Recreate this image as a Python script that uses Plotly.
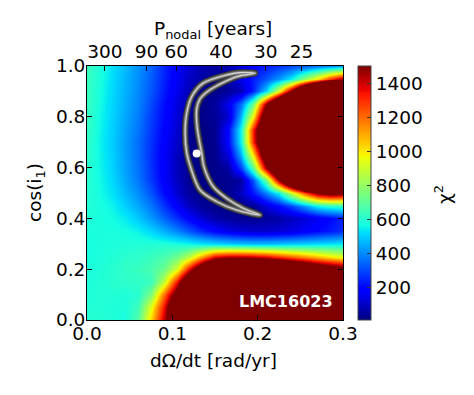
import numpy as np
import plotly.graph_objects as go

# ---------------- data ----------------
dOmega_dt = [0.0, 0.015, 0.03, 0.045, 0.06, 0.075, 0.09, 0.105, 0.12, 0.135, 0.15,
             0.165, 0.18, 0.195, 0.21, 0.225, 0.24, 0.255, 0.27, 0.285, 0.30]
cos_i1 = [0.0, 0.05, 0.10, 0.15, 0.20, 0.25, 0.30, 0.35, 0.40, 0.45, 0.50,
          0.55, 0.60, 0.65, 0.70, 0.75, 0.80, 0.85, 0.90, 0.95, 1.00]

# chi^2 estimated on the grid above (rows: cos_i1 from 0 to 1); values above 1500 saturate
chi2_grid = [
    [600, 595, 585, 575, 680, 1030, 1420, 1900, 2400, 2800, 3100, 3300, 3400, 3500, 3500, 3500, 3500, 3500, 3500, 3500, 3500],
    [590, 590, 585, 580, 640, 940, 1350, 1900, 2400, 2800, 3100, 3300, 3400, 3500, 3500, 3500, 3500, 3500, 3500, 3500, 3500],
    [585, 590, 590, 585, 600, 760, 1200, 1650, 2200, 2600, 2900, 3100, 3200, 3300, 3300, 3300, 3300, 3300, 3300, 3300, 3300],
    [580, 590, 600, 610, 615, 630, 880, 1350, 1900, 2300, 2600, 2800, 2900, 3000, 3000, 3000, 3000, 3000, 3000, 3000, 3000],
    [575, 585, 600, 615, 630, 660, 720, 920, 1350, 1800, 2200, 2400, 2500, 2500, 2400, 2250, 2100, 1950, 1800, 1700, 1620],
    [570, 580, 590, 605, 610, 630, 660, 730, 870, 1130, 1380, 1450, 1450, 1430, 1380, 1300, 1220, 1150, 1080, 1010, 950],
    [570, 575, 580, 585, 590, 590, 590, 580, 560, 540, 520, 500, 490, 480, 480, 490, 500, 510, 520, 530, 540],
    [575, 575, 575, 570, 550, 510, 450, 390, 320, 250, 190, 150, 120, 110, 110, 120, 140, 170, 200, 230, 260],
    [580, 575, 565, 540, 490, 420, 340, 260, 180, 110, 60, 40, 30, 30, 40, 60, 90, 120, 160, 200, 240],
    [590, 575, 550, 500, 440, 370, 270, 170, 90, 40, 20, 20, 20, 30, 120, 200, 300, 420, 550, 600, 620],
    [595, 565, 525, 465, 400, 315, 205, 115, 45, 15, 15, 30, 90, 220, 380, 560, 900, 1250, 1500, 1600, 1550],
    [600, 560, 510, 440, 370, 275, 175, 90, 30, 10, 20, 30, 50, 320, 720, 1500, 2200, 2800, 3200, 3400, 3500],
    [605, 555, 500, 430, 360, 265, 170, 85, 25, 8, 20, 50, 290, 680, 1450, 2150, 2800, 3300, 3700, 4000, 4200],
    [610, 555, 495, 425, 355, 260, 170, 90, 25, 8, 25, 130, 450, 1000, 1800, 2500, 3100, 3600, 4000, 4300, 4600],
    [615, 550, 490, 425, 355, 265, 180, 100, 30, 10, 30, 190, 560, 1300, 2000, 2700, 3300, 3800, 4200, 4500, 4800],
    [620, 555, 495, 430, 365, 275, 190, 110, 30, 10, 30, 195, 568, 1313, 2000, 2700, 3300, 3800, 4200, 4500, 4800],
    [625, 560, 500, 440, 375, 285, 200, 120, 40, 20, 40, 110, 460, 980, 1800, 2500, 3100, 3600, 4000, 4300, 4600],
    [630, 565, 505, 450, 385, 300, 210, 130, 60, 15, 50, 150, 360, 720, 1480, 2200, 2900, 3500, 4000, 4400, 4800],
    [630, 570, 510, 455, 395, 320, 230, 150, 80, 30, 20, 40, 80, 240, 500, 940, 1550, 2300, 3000, 3700, 4400],
    [630, 575, 515, 460, 400, 330, 240, 160, 100, 55, 40, 60, 150, 230, 320, 420, 560, 800, 1000, 1280, 1480],
    [640, 580, 520, 470, 410, 340, 250, 170, 110, 70, 50, 70, 130, 190, 230, 265, 300, 330, 370, 400, 430],
]

# confidence contour (closed crescent)
contour_x = [0.197, 0.179, 0.164, 0.136, 0.1226, 0.1168, 0.115, 0.117, 0.1215, 0.1324, 0.152, 0.1754, 0.2027,
             0.183, 0.1637, 0.148, 0.137, 0.1345, 0.1325, 0.129, 0.1285, 0.1324, 0.144, 0.1754, 0.197]
contour_y = [0.972, 0.974, 0.965, 0.932, 0.879, 0.814, 0.735, 0.656, 0.600, 0.512, 0.466, 0.433, 0.413,
             0.440, 0.479, 0.525, 0.604, 0.656, 0.690, 0.761, 0.830, 0.870, 0.906, 0.958, 0.972]

best_fit_x = [0.1285]
best_fit_y = [0.656]

x_ticks = [0.0, 0.1, 0.2, 0.3]
y_ticks = [0.0, 0.2, 0.4, 0.6, 0.8, 1.0]
period_ticks = [300, 90, 60, 40, 30, 25]      # P_nodal [years]
cbar_ticks = [200, 400, 600, 800, 1000, 1200, 1400]
chi2_min, chi2_max = 8, 1500
label_text = "LMC16023"

# ---------------- style ----------------
FONT = "DejaVu Sans"
FS = 18.5

# matplotlib "jet" colormap
_jet = {
    'r': ((0., 0.), (0.35, 0.), (0.66, 1.), (0.89, 1.), (1., 0.5)),
    'g': ((0., 0.), (0.125, 0.), (0.375, 1.), (0.64, 1.), (0.91, 0.), (1., 0.)),
    'b': ((0., 0.5), (0.11, 1.), (0.34, 1.), (0.65, 0.), (1., 0.)),
}
stops = sorted({p for c in _jet.values() for p, _ in c})
def _ch(c, s):
    xs_, vs_ = zip(*_jet[c])
    return np.interp(s, xs_, vs_)
jet = [[s, "rgb(%d,%d,%d)" % tuple(int(round(255 * _ch(c, s))) for c in 'rgb')] for s in stops]

# plot area in pixels
W, H = 474, 395
L, R, T, B = 87, 343, 66, 320
pw, ph = R - L, B - T
def px(xp): return (xp - L) / pw
def py(yp): return (B - yp) / ph

fig = go.Figure()

fig.add_trace(go.Heatmap(
    x=dOmega_dt, y=cos_i1, z=chi2_grid, zsmooth='best',
    colorscale=jet, zmin=chi2_min, zmax=chi2_max,
    colorbar=dict(
        thickness=13, thicknessmode='pixels', len=1, lenmode='fraction',
        x=px(358), xanchor='left', y=0.5, yanchor='middle', xpad=0, ypad=0,
        outlinewidth=1, outlinecolor='#444444',
        tickvals=cbar_ticks, ticks='inside', ticklen=4, tickcolor='#333333',
        tickfont=dict(family=FONT, size=FS, color='black'),
    ),
    hoverinfo='skip',
))

for w, col in [(6.5, '#333333'), (4.6, '#575757'), (2.8, '#8a8a8a'), (1.1, '#d6d6d6')]:
    fig.add_trace(go.Scatter(
        x=contour_x, y=contour_y, mode='lines',
        line=dict(color=col, width=w, shape='spline', smoothing=0.9),
        showlegend=False, hoverinfo='skip'))

# best-fit point (drawn on the top twin axis, which shares the same dΩ/dt range)
fig.add_trace(go.Scatter(
    x=best_fit_x, y=best_fit_y, mode='markers', xaxis='x2', yaxis='y',
    marker=dict(color='white', size=8, line=dict(width=0)),
    showlegend=False, hoverinfo='skip'))

axis_common = dict(showgrid=False, zeroline=False, ticks='inside', ticklen=5,
                   tickcolor='black', tickwidth=1, showline=True, linecolor='black',
                   linewidth=1, tickfont=dict(family=FONT, size=FS, color='black'))

fig.update_layout(
    width=W, height=H,
    margin=dict(l=L, r=W - R, t=T, b=H - B, pad=0),
    paper_bgcolor='white', plot_bgcolor='white',
    font=dict(family=FONT, size=FS, color='black'),
    xaxis=dict(range=[0, 0.3], tickvals=x_ticks, ticktext=["%.1f" % v for v in x_ticks],
               ticklabelstandoff=-3, **axis_common),
    xaxis2=dict(range=[0, 0.3], overlaying='x', side='top', anchor='y',
                tickvals=[2 * np.pi / p for p in period_ticks],
                ticktext=[str(p) for p in period_ticks], ticklabelstandoff=0, **axis_common),
    yaxis=dict(range=[0, 1], tickvals=y_ticks, ticktext=["%.1f" % v for v in y_ticks],
               mirror='ticks', ticklabelstandoff=-3, **axis_common),
    showlegend=False,
)

ann_font = dict(family=FONT, size=FS, color='black')
fig.add_annotation(text="P<sub>nodal</sub> [years]", xref='paper', yref='paper',
                   x=px(213), y=py(30), xanchor='center', yanchor='middle',
                   showarrow=False, font=ann_font)
fig.add_annotation(text="dΩ/dt [rad/yr]", xref='paper', yref='paper',
                   x=px(213), y=py(360), xanchor='center', yanchor='middle',
                   showarrow=False, font=ann_font)
fig.add_annotation(text="cos(i<sub>1</sub>)", xref='paper', yref='paper',
                   x=px(36), y=py(193), xanchor='center', yanchor='middle', textangle=-90,
                   showarrow=False, font=ann_font)
fig.add_annotation(text="χ<sup>2</sup>", xref='paper', yref='paper',
                   x=px(443), y=py(195), xanchor='center', yanchor='middle', textangle=-90,
                   showarrow=False, font=ann_font)
fig.add_annotation(text="<b>%s</b>" % label_text, xref='paper', yref='paper',
                   x=px(335), y=py(301), xanchor='right', yanchor='middle',
                   showarrow=False, font=dict(family=FONT, size=16, color='white'))

fig.write_html("out.html", config={'displayModeBar': False},
               post_script="document.body.style.margin='0px';")
